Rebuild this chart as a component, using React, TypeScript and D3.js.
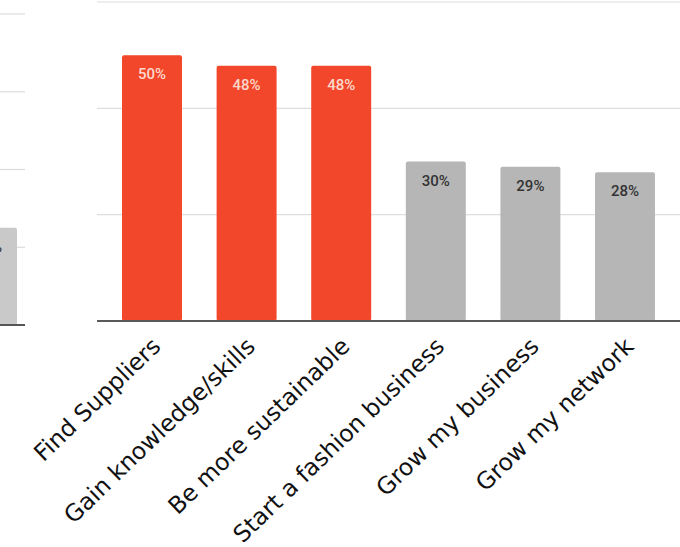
import React from "react";
import * as d3 from "d3";

const categories = [
  "Find Suppliers",
  "Gain knowledge/skills",
  "Be more sustainable",
  "Start a fashion business",
  "Grow my business",
  "Grow my network",
];
const values = [50, 48, 48, 30, 29, 28];
const highlighted = [true, true, true, false, false, false];
const yTicks = [0, 20, 40, 60];

// partial neighbouring chart visible at the left edge
const leftValues = [25];
const leftTicks = [0, 20, 40, 60, 80];

const W = 680;
const H = 547;

export default function App() {
  const x = d3
    .scaleBand<string>()
    .domain(categories)
    .range([104.7, 672.3])
    .paddingInner(0.366)
    .paddingOuter(0.183);
  const y = d3.scaleLinear().domain([0, 60]).range([321, 2]);
  const yl = d3.scaleLinear().domain([0, 80]).range([325, 14]);

  const bw = x.bandwidth();

  return (
    <svg
      width={W}
      height={H}
      style={{ position: "absolute", left: 0, top: 0, display: "block", background: "#fff" }}
    >
      {/* left partial chart */}
      <g>
        {leftTicks.slice(1).map((t) => (
          <line key={t} x1={0} x2={25} y1={yl(t)} y2={yl(t)} stroke="#dcdcdc" strokeWidth={1.2} />
        ))}
        {leftValues.map((v, i) => (
          <g key={i}>
            <rect x={-43} y={yl(v)} width={60} height={yl(0) - yl(v)} rx={2} fill="#c9c9c9" />
            <text
              x={-12}
              y={yl(v) + 24}
              textAnchor="middle"
              fontFamily="Roboto"
              fontWeight={500}
              fontSize={15}
              fill="#333"
            >
              {v}%
            </text>
          </g>
        ))}
        <line x1={0} x2={25} y1={yl(0)} y2={yl(0)} stroke="#555" strokeWidth={2} />
      </g>

      {/* main chart gridlines */}
      {yTicks.slice(1).map((t) => (
        <line key={t} x1={97} x2={W} y1={y(t)} y2={y(t)} stroke="#dedede" strokeWidth={1.2} />
      ))}

      {/* bars */}
      {categories.map((c, i) => {
        const v = values[i];
        const bx = x(c)!;
        const hl = highlighted[i];
        return (
          <g key={c}>
            <rect
              x={bx}
              y={y(v)}
              width={bw}
              height={y(0) - y(v)}
              rx={2}
              fill={hl ? "#f2472a" : "#b6b6b6"}
            />
            <text
              x={bx + bw / 2}
              y={y(v) + 24}
              textAnchor="middle"
              fontFamily="Roboto"
              fontWeight={500}
              fontSize={15}
              fill={hl ? "#fbd9cc" : "#333"}
            >
              {v}%
            </text>
          </g>
        );
      })}

      {/* baseline */}
      <line x1={97} x2={W} y1={y(0)} y2={y(0)} stroke="#5a5a5a" strokeWidth={2.2} />

      {/* category labels */}
      {categories.map((c) => {
        const cx = x(c)! + bw / 2 + 10;
        const cy = 348;
        return (
          <text
            key={c}
            transform={`translate(${cx},${cy}) rotate(-44)`}
            textAnchor="end"
            fontFamily="DejaVu Sans"
            fontSize={23.5}
            fill="#111"
          >
            {c}
          </text>
        );
      })}
    </svg>
  );
}
